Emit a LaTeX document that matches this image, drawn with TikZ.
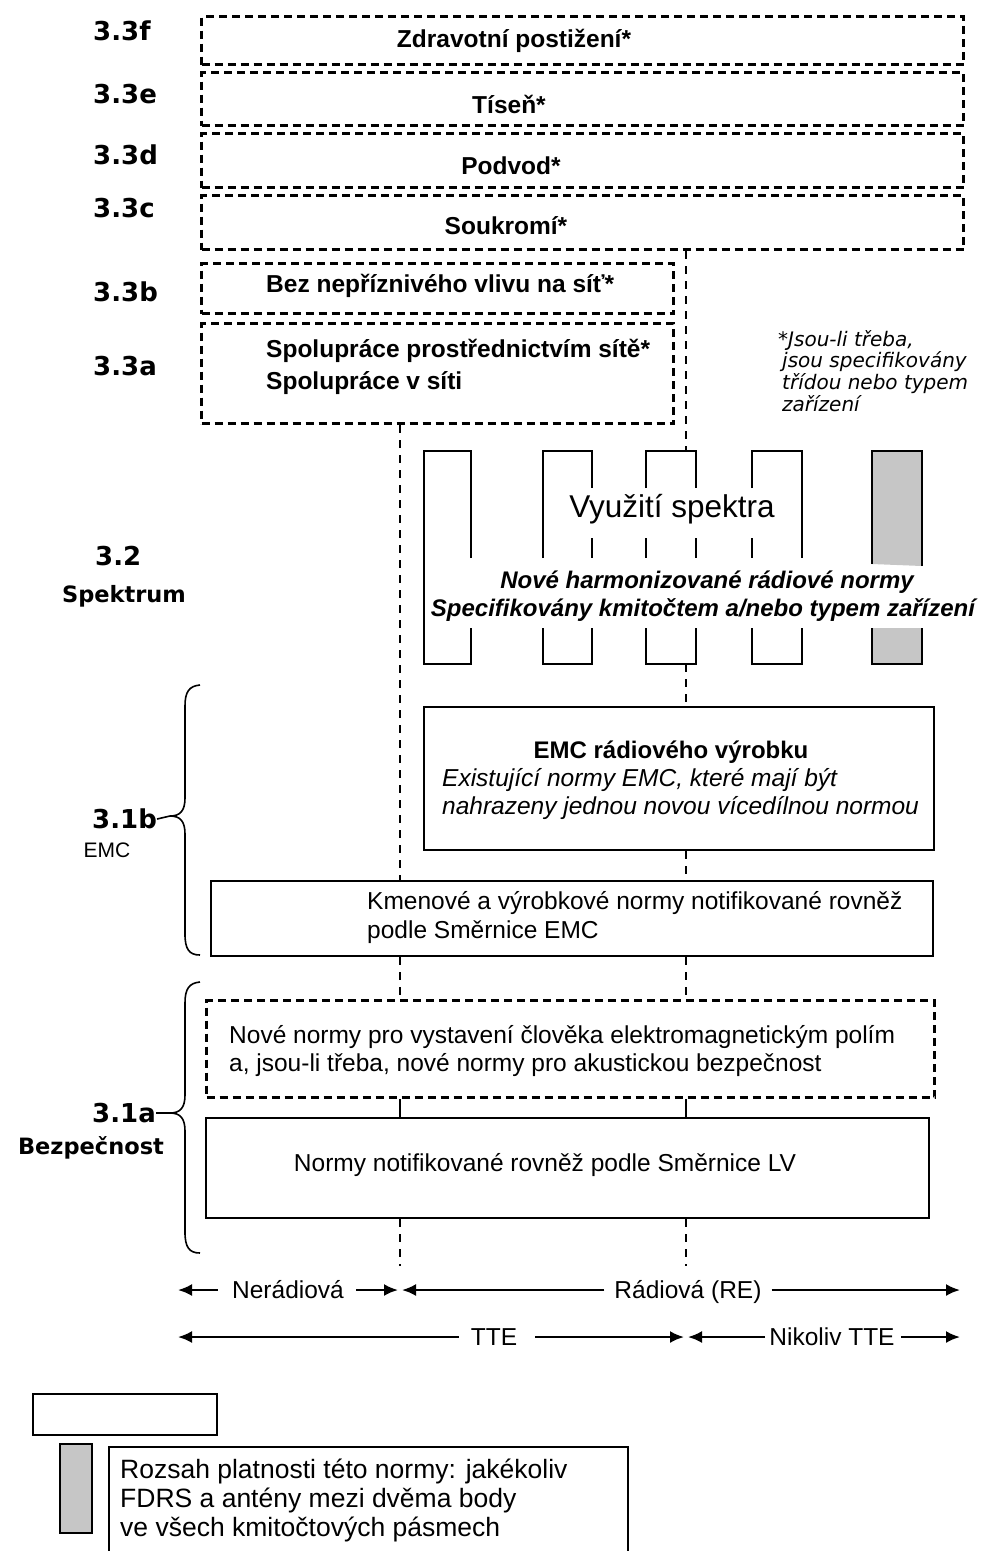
\documentclass[tikz,border=0pt]{standalone}
\usepackage{fontspec}
\setmainfont{Liberation Sans}
\newfontfamily\dvs{DejaVu Sans}
\usetikzlibrary{arrows.meta}
\begin{document}
\begin{tikzpicture}[x=1pt,y=-1pt,
  dbox/.style={draw, line width=3pt, dash pattern=on 8pt off 5pt, inner sep=0pt, anchor=north west},
  sbox/.style={draw, line width=2.2pt, inner sep=0pt, anchor=north west},
  dcon/.style={line width=2pt, dash pattern=on 8pt off 7pt},
  scon/.style={line width=2pt},
  col/.style={line width=2.4pt},
  brc/.style={line width=1.6pt},
  arr/.style={line width=2.2pt, -{Latex[length=14pt,width=12pt]}},
  lab/.style={font=\dvs\bfseries\fontsize{26}{30}\selectfont, inner sep=0pt, anchor=west},
  labs/.style={font=\dvs\bfseries\fontsize{22.5}{26}\selectfont, inner sep=0pt},
  tb/.style={font=\bfseries\fontsize{24.5}{28}\selectfont, inner sep=0pt},
  tx/.style={font=\fontsize{24.5}{28.5}\selectfont, inner sep=0pt},
  txi/.style={font=\itshape\fontsize{24.5}{28.5}\selectfont, inner sep=0pt},
  txbi/.style={font=\bfseries\itshape\fontsize{24}{28}\selectfont, inner sep=0pt},
  lgt/.style={font=\fontsize{26.5}{29}\selectfont, inner sep=0pt, anchor=west},
  arl/.style={font=\fontsize{24.5}{28.5}\selectfont, inner sep=0pt, anchor=base},
  graybar/.style={fill=gray!45}
]
\useasboundingbox (0,0) rectangle (987,1551);

% ---------- 3.3 boxes ----------
\node[dbox, minimum width=762pt, minimum height=48pt] (bf) at (200,15) {};
\node[dbox, minimum width=762pt, minimum height=53pt] (be) at (200,71) {};
\node[dbox, minimum width=762pt, minimum height=54pt] (bd) at (200,132) {};
\node[dbox, minimum width=762pt, minimum height=54pt] (bc) at (200,194) {};
\node[dbox, minimum width=472pt, minimum height=50pt] (bb) at (200,262) {};
\node[dbox, minimum width=472pt, minimum height=100pt] (ba) at (200,322) {};

\node[tb] (tf) at (514,41) {Zdravotní postižení*};
\node[tb] (te) at (509,104) {Tíseň*};
\node[tb] (td) at (511,166) {Podvod*};
\node[tb] (tc) at (506,226) {Soukromí*};
\node[tb, anchor=west] (tbb) at (266,286) {Bez nepříznivého vlivu na síť*};
\node[tb, anchor=west] (ta1) at (266,351) {Spolupráce prostřednictvím sítě*};
\node[tb, anchor=west] (ta2) at (266,383) {Spolupráce v síti};

\node[font=\dvs\itshape\fontsize{20}{21.7}\selectfont, align=left, anchor=north west, inner sep=0pt] (fn) at (778,330)
  {*Jsou-li třeba,\\\hspace*{4pt}jsou specifikovány\\\hspace*{4pt}třídou nebo typem\\\hspace*{4pt}zařízení};

% ---------- labels ----------
\node[lab] (l3f) at (93,31) {3.3f};
\node[lab] (l3e) at (93,94) {3.3e};
\node[lab] (l3d) at (93,155) {3.3d};
\node[lab] (l3c) at (93,208) {3.3c};
\node[lab] (l3b) at (93,292) {3.3b};
\node[lab] (l3a) at (93,366) {3.3a};
\node[lab] (l32) at (95,556) {3.2};
\node[labs] (lsp) at (124,596) {Spektrum};
\node[lab] (l31b) at (92,819) {3.1b};
\node[font=\fontsize{21}{24}\selectfont, inner sep=0pt] (lemc) at (107,850) {EMC};
\node[lab] (l31a) at (92,1113) {3.1a};
\node[labs] (lbez) at (91,1148) {Bezpečnost};

% ---------- spectrum ----------
\coordinate (c3top) at (686,451);
\coordinate (c3bot) at (686,664);
\draw[col] (471,558) -- (471,451) -- (424,451) -- (424,664) -- (471,664) -- (471,628);
\draw[col] (543,558) -- (543,451) -- (592,451) -- (592,488);
\draw[col] (592,538) -- (592,558);
\draw[col] (646,488) -- (646,451) -- (696,451) -- (696,488);
\draw[col] (646,538) -- (646,558);
\draw[col] (696,538) -- (696,558);
\draw[col] (752,488) -- (752,451) -- (802,451) -- (802,558);
\draw[col] (752,538) -- (752,558);
\draw[col] (543,628) -- (543,664) -- (592,664) -- (592,628);
\draw[col] (646,628) -- (646,664) -- (696,664) -- (696,628);
\draw[col] (752,628) -- (752,664) -- (802,664) -- (802,628);
\draw[col, graybar] (872,564) -- (872,451) -- (922,451) -- (922,566);
\draw[col, graybar] (872,628) -- (872,664) -- (922,664) -- (922,628);

\node[font=\fontsize{31.5}{36}\selectfont, inner sep=0pt] (vs) at (672,509) {Využití spektra};
\node[txbi] (nh1) at (707,582) {Nové harmonizované rádiové normy};
\node[txbi] (nh2) at (703,610) {Specifikovány kmitočtem a/nebo typem zařízení};

% ---------- EMC / safety boxes ----------
\node[sbox, minimum width=510pt, minimum height=143pt] (emc) at (423,706) {};
\node[sbox, minimum width=722pt, minimum height=75pt] (km) at (210,880) {};
\node[dbox, minimum width=728pt, minimum height=97pt] (nn) at (205,999) {};
\node[sbox, minimum width=723pt, minimum height=100pt] (lv) at (205,1117) {};

\node[font=\bfseries\fontsize{24}{28}\selectfont, inner sep=0pt] (emt) at (671,752) {EMC rádiového výrobku};
\node[txi, anchor=west] (emi1) at (442,780) {Existující normy EMC, které mají být};
\node[txi, anchor=west] (emi2) at (442,808) {nahrazeny jednou novou vícedílnou normou};
\node[tx, anchor=west] (km1) at (367,903) {Kmenové a výrobkové normy notifikované rovněž};
\node[tx, anchor=west] (km2) at (367,932) {podle Směrnice EMC};
\node[tx, anchor=west] (nn1) at (229,1037) {Nové normy pro vystavení člověka elektromagnetickým polím};
\node[tx, anchor=west] (nn2) at (229,1065) {a, jsou-li třeba, nové normy pro akustickou bezpečnost};
\node[tx] (lvt) at (545,1165) {Normy notifikované rovněž podle Směrnice LV};

% ---------- vertical connectors ----------
\coordinate (kx) at (400,0);
\coordinate (rx) at (686,0);
\coordinate (kend) at (400,1266);
\coordinate (rend) at (686,1266);
\draw[dcon] (bc.south -| c3top) -- (c3top);
\draw[dcon] (ba.south -| kx) -- (km.north -| kx);
\draw[dcon] (c3bot) -- (emc.north -| rx);
\draw[dcon] (emc.south -| rx) -- (km.north -| rx);
\draw[dcon] (km.south -| kx) -- (nn.north -| kx);
\draw[dcon] (km.south -| rx) -- (nn.north -| rx);
\draw[scon] (nn.south -| kx) -- (lv.north -| kx);
\draw[scon] (nn.south -| rx) -- (lv.north -| rx);
\draw[dcon] (lv.south -| kx) -- (kend);
\draw[dcon] (lv.south -| rx) -- (rend);

% ---------- braces ----------
\coordinate (tipb) at (170,816);
\coordinate (tipa) at (170,1113);
\draw[brc] (200,685) .. controls (189,686) and (185,692) .. (185,706) -- (185,798)
  .. controls (185,811) and (180,816) .. (tipb)
  .. controls (180,816) and (185,821) .. (185,834) -- (185,934)
  .. controls (185,949) and (189,955) .. (200,955);
\draw[brc] (l31b.east) -- (tipb);
\draw[brc] (200,982) .. controls (189,983) and (185,989) .. (185,1003) -- (185,1095)
  .. controls (185,1108) and (180,1113) .. (tipa)
  .. controls (180,1113) and (185,1118) .. (185,1131) -- (185,1232)
  .. controls (185,1247) and (189,1253) .. (200,1253);
\draw[brc] (l31a.east) -- (tipa);

% ---------- range arrows ----------
\coordinate (a1l) at (178,1290);
\coordinate (a1m) at (400,1290);
\coordinate (a1r) at (960,1290);
\coordinate (a2l) at (178,1337);
\coordinate (a2m) at (686,1337);
\coordinate (a2r) at (960,1337);
\node[arl] (ner) at (288,1298.5) {Nerádiová};
\node[arl] (rad) at (688,1298.5) {Rádiová (RE)};
\node[arl] (tte) at (494,1345.5) {TTE};
\node[arl] (ntte) at (832,1345.5) {Nikoliv TTE};
\draw[arr] ([xshift=-14pt]ner.west |- a1l) -- (a1l);
\draw[arr] ([xshift=12pt]ner.east |- a1l) -- ([xshift=-2pt]a1m);
\draw[arr] ([xshift=-10pt]rad.west |- a1l) -- ([xshift=2pt]a1m);
\draw[arr] ([xshift=10pt]rad.east |- a1l) -- (a1r);
\draw[arr] ([xshift=-12pt]tte.west |- a2l) -- (a2l);
\draw[arr] ([xshift=18pt]tte.east |- a2l) -- ([xshift=-2pt]a2m);
\draw[arr] ([xshift=-4pt]ntte.west |- a2l) -- ([xshift=2pt]a2m);
\draw[arr] ([xshift=6pt]ntte.east |- a2l) -- (a2r);

% ---------- legend ----------
\node[sbox, line width=1.6pt, minimum width=184pt, minimum height=41pt] (lw) at (32,1393) {};
\node[sbox, line width=1.6pt, graybar, minimum width=32pt, minimum height=89pt] (lg) at (59,1443) {};
\coordinate (lb1) at (109,1560);
\coordinate (lb2) at (628,1560);
\draw[line width=1.6pt] (lb1) -- (109,1447) -- (628,1447) -- (lb2);
\node[lgt] (lt1) at (120,1471) {Rozsah platnosti této normy: jakékoliv};
\node[lgt] (lt2) at (120,1500) {FDRS a antény mezi dvěma body};
\node[lgt] (lt3) at (120,1529) {ve všech kmitočtových pásmech};
\end{tikzpicture}
\end{document}
